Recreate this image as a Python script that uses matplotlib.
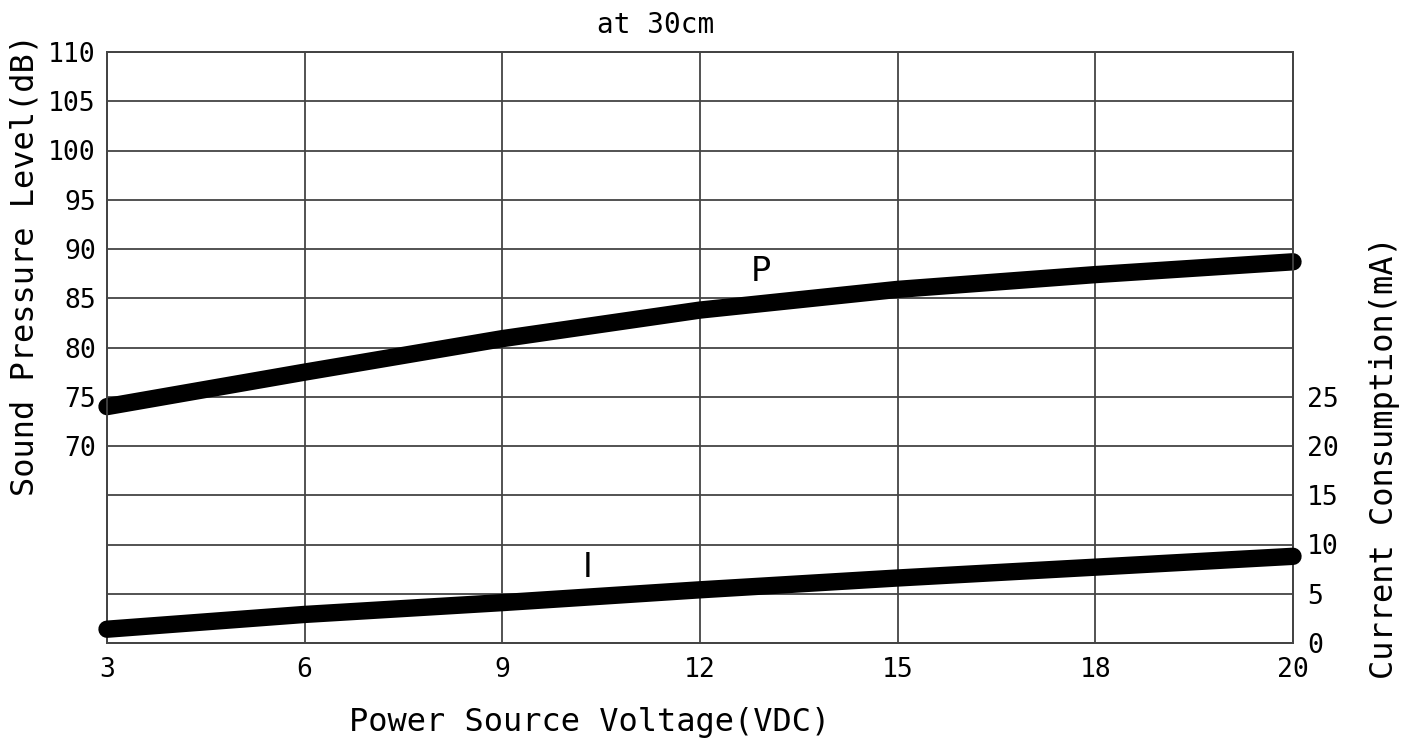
import matplotlib
matplotlib.use("Agg")
from matplotlib import pyplot as plt
import numpy as np

# data
voltage = [3, 6, 9, 12, 15, 18, 20]
spl_db = [74.0, 77.5, 80.9, 83.8, 85.9, 87.4, 88.7]
current_ma = [1.4, 2.9, 4.1, 5.4, 6.6, 7.7, 8.8]
left_ticks = [50, 55, 60, 65, 70, 75, 80, 85, 90, 95, 100, 105, 110]
right_ticks = [0, 5, 10, 15, 20, 25]

plt.rcParams['font.family'] = ['DejaVu Sans Mono']
grid_c = '#444444'

fig = plt.figure(figsize=(14.01, 7.40), dpi=100)
ax = fig.add_axes([107 / 1401, 1 - 643 / 740, (1293 - 107) / 1401, (643 - 52) / 740])
ax2 = ax.twinx()

# x positions are evenly spaced even though 18 -> 20 is a smaller step
pos = np.arange(len(voltage))

ax.set_xlim(0, len(voltage) - 1)
ax.set_ylim(50, 110)
ax2.set_ylim(0, 60)

ax.set_xticks(pos)
ax.set_xticklabels([str(v) for v in voltage])
ax.set_yticks(left_ticks)
ax.set_yticklabels([str(t) if t >= 70 else '' for t in left_ticks])
ax2.set_yticks(right_ticks)
ax2.set_yticklabels([str(t) for t in right_ticks])

ax.grid(True, color=grid_c, linewidth=1.3)
ax.tick_params(length=0, labelsize=19, pad=8)
ax.tick_params(axis='x', pad=10)
ax2.tick_params(length=0, labelsize=19, pad=10)
for a in (ax, ax2):
    for s in a.spines.values():
        s.set_color(grid_c)
        s.set_linewidth(1.3)

# round ends stick out past the frame in the original
ax.plot(pos, spl_db, color='black', linewidth=12.5, solid_capstyle='round',
        solid_joinstyle='round', zorder=5, clip_on=False)
ax2.plot(pos, current_ma, color='black', linewidth=12.5, solid_capstyle='round',
         solid_joinstyle='round', zorder=5, clip_on=False)

ax.text(3.31, 87.7, 'P', fontsize=24, family='DejaVu Sans', ha='center', va='center', zorder=6)
ax2.text(2.43, 7.7, 'I', fontsize=24, family='DejaVu Sans', ha='center', va='center', zorder=6)

fig.text(656 / 1401, 1 - 25 / 740, 'at 30cm', fontsize=20, ha='center', va='center')
fig.text(590 / 1401, 1 - 722 / 740, 'Power Source Voltage(VDC)', fontsize=23,
         ha='center', va='center')
fig.text(25 / 1401, 1 - 265 / 740, 'Sound Pressure Level(dB)', fontsize=23,
         rotation=90, ha='center', va='center')
fig.text(1385 / 1401, 1 - 458 / 740, 'Current Consumption(mA)', fontsize=23,
         rotation=90, ha='center', va='center')

fig.savefig('out.png', dpi=100)
